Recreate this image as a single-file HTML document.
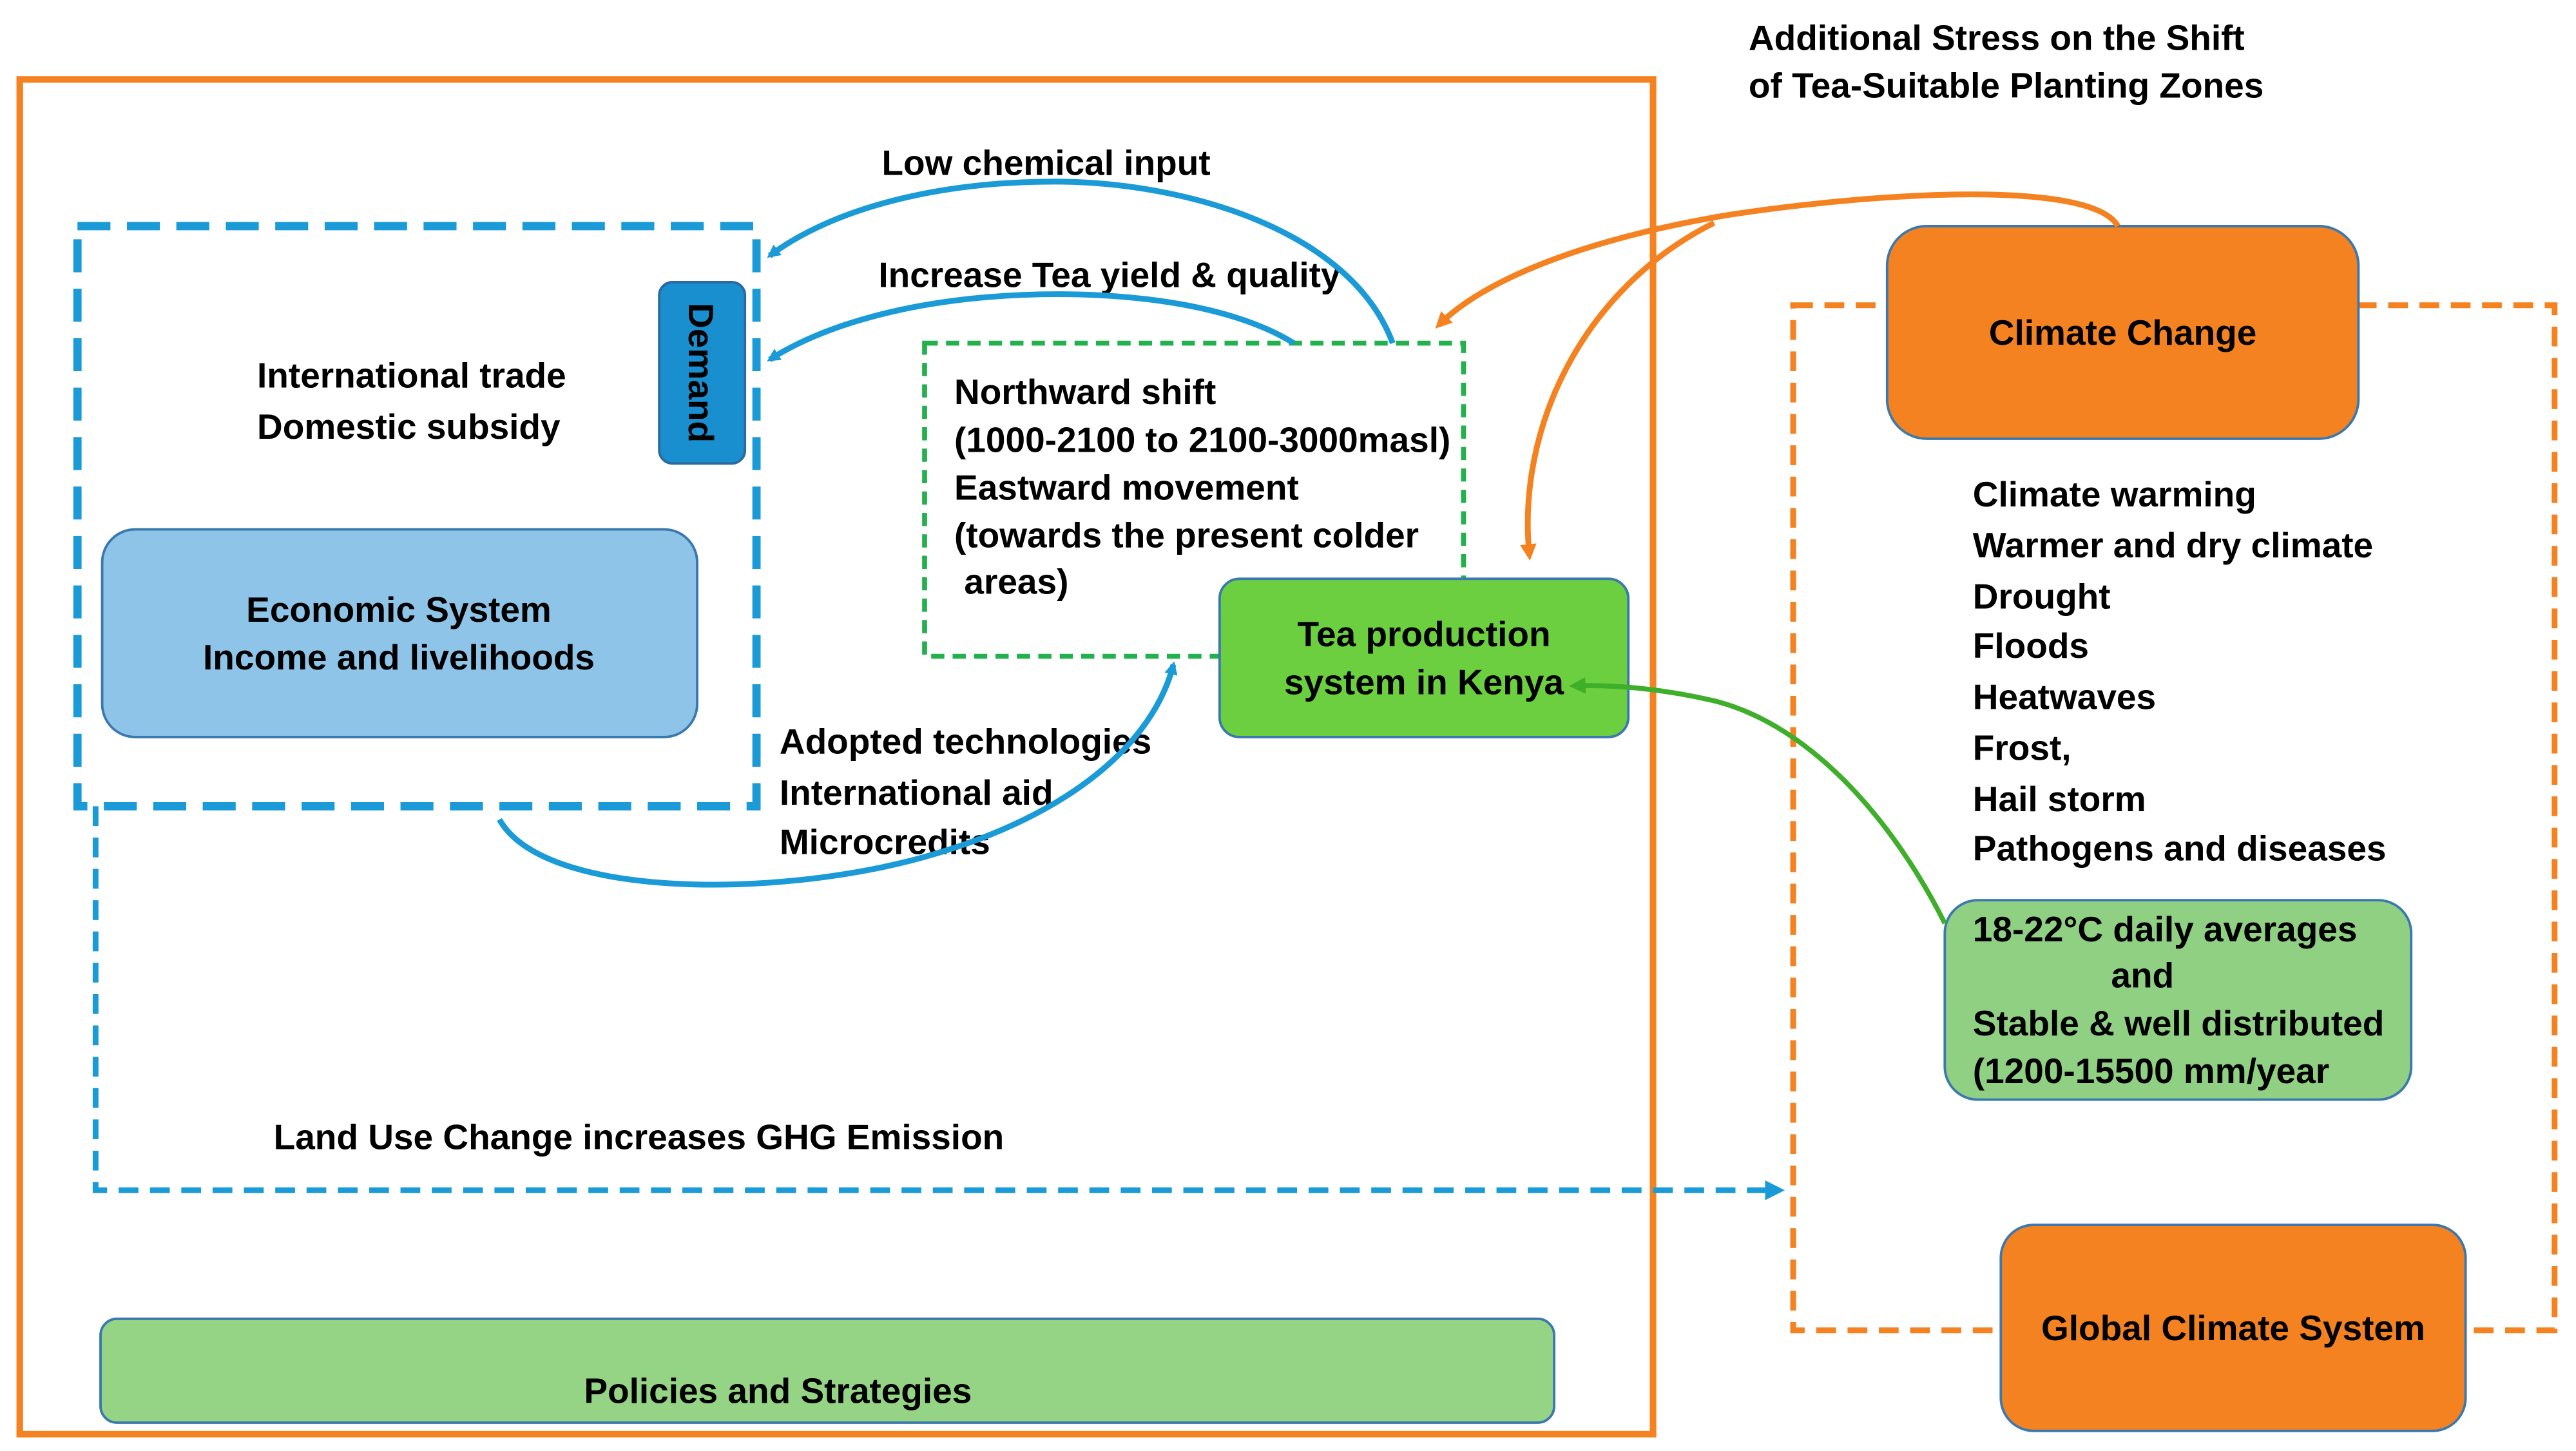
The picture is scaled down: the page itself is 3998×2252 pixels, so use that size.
<!DOCTYPE html>
<html><head><meta charset="utf-8"><style>
html,body{margin:0;padding:0;background:#fff;}
svg{display:block;}
text{font-family:"Liberation Sans",sans-serif;font-weight:bold;fill:#000;}
</style></head><body>
<svg width="3998" height="2252" viewBox="0 0 1563 880" xmlns="http://www.w3.org/2000/svg">
<defs>
<marker id="ab" markerWidth="8" markerHeight="8" refX="6" refY="4" orient="auto" markerUnits="userSpaceOnUse"><path d="M0,0 L8,4 L0,8 Z" fill="#1a9ad6"/></marker>
<marker id="ao" markerWidth="10" markerHeight="10" refX="7" refY="5" orient="auto" markerUnits="userSpaceOnUse"><path d="M0,0 L10,5 L0,10 Z" fill="#f58220"/></marker>
<marker id="ag" markerWidth="10" markerHeight="10" refX="7" refY="5" orient="auto" markerUnits="userSpaceOnUse"><path d="M0,0 L10,5 L0,10 Z" fill="#3fae2a"/></marker>
<marker id="abd" markerWidth="12" markerHeight="12" refX="9" refY="6" orient="auto" markerUnits="userSpaceOnUse"><path d="M0,0 L12,6 L0,12 Z" fill="#1a9ad6"/></marker>
</defs>
<rect width="1563" height="880" fill="#fff"/>
<rect x="12" y="48" width="991" height="822" fill="none" stroke="#f58220" stroke-width="4"/>
<rect x="1088" y="185" width="462" height="622" fill="none" stroke="#f58220" stroke-width="3.5" stroke-dasharray="12 7"/>
<rect x="47" y="137" width="412" height="352" fill="none" stroke="#1a9ad6" stroke-width="5" stroke-dasharray="20 10"/>
<rect x="561" y="208" width="327" height="190" fill="none" stroke="#22b14c" stroke-width="3" stroke-dasharray="8 5"/>
<path d="M58,489 L58,722 L1080,722" fill="none" stroke="#1a9ad6" stroke-width="3.5" stroke-dasharray="12 7" marker-end="url(#abd)"/>

<g font-size="21.5">
<rect x="400" y="171" width="52" height="110" rx="8" fill="#1a8fd0" stroke="#2a6aa0" stroke-width="1.5"/>
<text transform="translate(418,226) rotate(90)" text-anchor="middle">Demand</text>
<rect x="62" y="321" width="361" height="126" rx="20" fill="#8dc4e8" stroke="#3a78b0" stroke-width="1.5"/>
<text x="242" y="377" text-anchor="middle">Economic System</text>
<text x="242" y="406" text-anchor="middle">Income and livelihoods</text>
<rect x="740" y="351" width="248" height="96" rx="12" fill="#6ccf3f" stroke="#3a78b0" stroke-width="1.5"/>
<text x="864" y="392" text-anchor="middle">Tea production</text>
<text x="864" y="421" text-anchor="middle">system in  Kenya</text>
<rect x="1145" y="137" width="286" height="129" rx="24" fill="#f58220" stroke="#3a78b0" stroke-width="1.5"/>
<text x="1288" y="209" text-anchor="middle">Climate Change</text>
<rect x="1180" y="546" width="283" height="121" rx="20" fill="#90d082" stroke="#3a78b0" stroke-width="1.5"/>
<text x="1197" y="571">18-22°C daily averages</text>
<text x="1300" y="599" text-anchor="middle">and</text>
<text x="1197" y="628">Stable &amp; well distributed</text>
<text x="1197" y="657">(1200-15500 mm/year</text>
<rect x="1214" y="743" width="282" height="125" rx="20" fill="#f58220" stroke="#3a78b0" stroke-width="1.5"/>
<text x="1355" y="813" text-anchor="middle">Global Climate System</text>
<rect x="61" y="800" width="882" height="63" rx="10" fill="#95d385" stroke="#3a78b0" stroke-width="1.5"/>
<text x="472" y="851" text-anchor="middle">Policies and Strategies</text>

<text x="1061" y="30">Additional Stress on the Shift</text>
<text x="1061" y="59">of Tea-Suitable Planting Zones</text>
<text x="535" y="106">Low chemical input</text>
<text x="533" y="174">Increase Tea yield &amp; quality</text>
<text x="156" y="235">International trade</text>
<text x="156" y="266">Domestic subsidy</text>
<text x="579" y="245">Northward shift</text>
<text x="579" y="274">(1000-2100 to 2100-3000masl)</text>
<text x="579" y="303">Eastward movement</text>
<text x="579" y="332">(towards the present colder</text>
<text x="585" y="360">areas)</text>
<text x="473" y="457">Adopted technologies</text>
<text x="473" y="488">International aid</text>
<text x="473" y="518">Microcredits</text>
<text x="166" y="697">Land Use Change increases GHG Emission</text>
<text x="1197" y="307">Climate warming</text>
<text x="1197" y="338">Warmer and dry climate</text>
<text x="1197" y="369">Drought</text>
<text x="1197" y="399">Floods</text>
<text x="1197" y="430">Heatwaves</text>
<text x="1197" y="461">Frost,</text>
<text x="1197" y="492">Hail storm</text>
<text x="1197" y="522">Pathogens and diseases</text>
</g>

<path d="M845,208 C820,140 720,110 640,110 C560,110 500,130 467,155" fill="none" stroke="#1a9ad6" stroke-width="3.5" marker-end="url(#ab)"/>
<path d="M785,208 C740,180 660,175 600,180 C540,185 495,200 467,218" fill="none" stroke="#1a9ad6" stroke-width="3.5" marker-end="url(#ab)"/>
<path d="M303,497 C330,545 470,545 560,520 C650,495 700,450 712,403" fill="none" stroke="#1a9ad6" stroke-width="3.5" marker-end="url(#ab)"/>
<path d="M1285,137 C1270,110 1150,115 1050,130 C960,145 900,170 873,197" fill="none" stroke="#f58220" stroke-width="3.5" marker-end="url(#ao)"/>
<path d="M1040,135 C960,175 920,260 928,337" fill="none" stroke="#f58220" stroke-width="3.5" marker-end="url(#ao)"/>
<path d="M1180,560 C1150,500 1100,440 1040,425 C1010,418 980,415 955,416" fill="none" stroke="#3fae2a" stroke-width="3" marker-end="url(#ag)"/>
</svg>
</body></html>
